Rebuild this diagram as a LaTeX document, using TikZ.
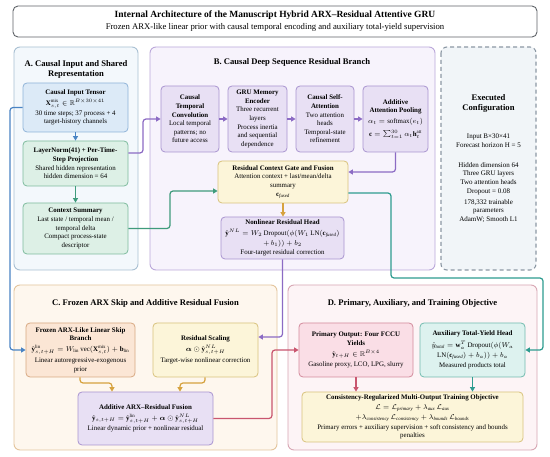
\documentclass[tikz,border=0pt]{standalone}
\usepackage{amsmath,amssymb}
\usepackage{fontspec}
\setmainfont{Liberation Serif}
\usetikzlibrary{arrows.meta,calc}
\definecolor{titleD}{HTML}{5F6368}
\definecolor{pAF}{HTML}{F3F8FC}\definecolor{pAD}{HTML}{A9C0D3}
\definecolor{inF}{HTML}{DCEAF7}\definecolor{inD}{HTML}{8FB4D8}
\definecolor{grF}{HTML}{DDF0E6}\definecolor{grD}{HTML}{7DBB9D}
\definecolor{pBF}{HTML}{F7F3FC}\definecolor{pBD}{HTML}{BBA8DA}
\definecolor{puF}{HTML}{E8E0F4}\definecolor{puD}{HTML}{A994D0}
\definecolor{yeF}{HTML}{FCF5D9}\definecolor{yeD}{HTML}{D8C27C}
\definecolor{cfgF}{HTML}{F1F5F8}\definecolor{cfgD}{HTML}{8C98A4}
\definecolor{pCF}{HTML}{FEF7EE}\definecolor{pCD}{HTML}{E4C59D}
\definecolor{orF}{HTML}{FBE6D5}\definecolor{orD}{HTML}{D8A982}
\definecolor{pDF}{HTML}{FDF4F6}\definecolor{pDD}{HTML}{D8A7B4}
\definecolor{piF}{HTML}{FADEE6}\definecolor{piD}{HTML}{D38A9C}
\definecolor{teF}{HTML}{DDF2EF}\definecolor{teD}{HTML}{72BBAF}
\definecolor{cblue}{HTML}{4A84C4}
\definecolor{cpurple}{HTML}{8C6BC4}
\definecolor{cgreen}{HTML}{3F9B7C}
\definecolor{cteal}{HTML}{2E9C90}
\definecolor{corange}{HTML}{D6A23F}
\definecolor{cred}{HTML}{C9566F}
\tikzset{
  panel/.style={rounded corners=6pt, line width=0.9pt},
  box/.style={rounded corners=4pt, line width=0.8pt, align=center, inner sep=1pt,
    font=\fontsize{6.9}{8.6}\selectfont},
  ptitle/.style={align=center, font=\fontsize{8.6}{10.5}\selectfont\bfseries},
  cfgtext/.style={align=center, font=\fontsize{7}{8.7}\selectfont},
  conn/.style={line width=1.2pt, rounded corners=3pt, -{Triangle[length=4.5pt,width=5pt]}},
  bluebox/.style={box, fill=inF, draw=inD},
  greenbox/.style={box, fill=grF, draw=grD},
  purplebox/.style={box, fill=puF, draw=puD},
  yellowbox/.style={box, fill=yeF, draw=yeD},
  orangebox/.style={box, fill=orF, draw=orD},
  pinkbox/.style={box, fill=piF, draw=piD},
  tealbox/.style={box, fill=teF, draw=teD}
}
\newcommand{\bt}[1]{\textbf{#1}}
\begin{document}
\begin{tikzpicture}[x=1pt,y=-1pt]
\useasboundingbox (0,0) rectangle (550,457);
\fill[white] (0,0) rectangle (550,457);
% title
\node[draw=titleD, line width=0.9pt, rounded corners=5pt, fill=white, minimum width=524pt, minimum height=31pt, align=center, inner sep=1pt] (title) at (275,21.5)
 {{\fontsize{9.5}{12}\selectfont\bfseries Internal Architecture of the Manuscript Hybrid ARX--Residual Attentive GRU}\\
  {\fontsize{8.7}{11}\selectfont Frozen ARX-like linear prior with causal temporal encoding and auxiliary total-yield supervision}};
% panels
\draw[panel, fill=pAF, draw=pAD] (14,47) rectangle (138,270);
\draw[panel, fill=pBF, draw=pBD] (150,47) rectangle (435,270);
\draw[panel, fill=cfgF, draw=cfgD, dashed, dash pattern=on 4pt off 3pt, line width=1.1pt] (441,47) rectangle (536,270);
\draw[panel, fill=pCF, draw=pCD] (14,285) rectangle (277,450);
\draw[panel, fill=pDF, draw=pDD] (288,285) rectangle (537,450);
% panel titles
\node[ptitle] (tA) at (76,69.5) {A. Causal Input and Shared\\Representation};
\node[ptitle] (tB) at (292,62) {B. Causal Deep Sequence Residual Branch};
\node[ptitle] (tC) at (145.5,303) {C. Frozen ARX Skip and Additive Residual Fusion};
\node[ptitle] (tD) at (412.5,303) {D. Primary, Auxiliary, and Training Objective};
% panel A
\node[bluebox, minimum width=105pt, minimum height=49pt] (inp) at (75.5,107.5)
 {\bt{Causal Input Tensor}\\[2pt]$\mathbf{X}^{\mathrm{mix}}_{s,t}\in\mathbb{R}^{B\times 30\times 41}$\\[1.5pt]30 time steps; 37 process + 4\\target-history channels};
\node[greenbox, minimum width=105pt, minimum height=45pt] (ln) at (75.5,163.5)
 {\bt{LayerNorm(41) + Per-Time-}\\\bt{Step Projection}\\Shared hidden representation\\hidden dimension = 64};
\node[greenbox, minimum width=105pt, minimum height=51pt] (ctx) at (75.5,228.5)
 {\bt{Context Summary}\\Last state / temporal mean /\\temporal delta\\Compact process-state\\descriptor};
% panel B
\node[purplebox, minimum width=58pt, minimum height=66pt] (conv) at (190,119)
 {\bt{Causal}\\\bt{Temporal}\\\bt{Convolution}\\Local temporal\\patterns; no\\future access};
\node[purplebox, minimum width=59pt, minimum height=66pt] (gru) at (257.5,119)
 {\bt{GRU Memory}\\\bt{Encoder}\\Three recurrent\\layers\\Process inertia\\and sequential\\dependence};
\node[purplebox, minimum width=58pt, minimum height=66pt] (sa) at (325,119)
 {\bt{Causal Self-}\\\bt{Attention}\\Two attention\\heads\\Temporal-state\\refinement};
\node[purplebox, minimum width=65pt, minimum height=66pt] (pool) at (395.5,119)
 {\bt{Additive}\\\bt{Attention Pooling}\\[2pt]$\alpha_t=\mathrm{softmax}(e_t)$\\[4pt]$\mathbf{c}=\textstyle\sum\nolimits_{t=1}^{30}\alpha_t\mathbf{h}_t^{\mathrm{att}}$};
\node[yellowbox, minimum width=130pt, minimum height=42pt] (fus) at (283,182)
 {\bt{Residual Context Gate and Fusion}\\Attention context + last/mean/delta\\summary\\[0.5pt]$\mathbf{c}_{\mathit{fused}}$};
\node[purplebox, minimum width=123pt, minimum height=42pt] (nl) at (282.5,238)
 {\bt{Nonlinear Residual Head}\\[2.5pt]$\hat{\mathbf{y}}^{NL}=W_2\,\mathrm{Dropout}(\phi(W_1\,\mathrm{LN}(\mathbf{c}_{\mathit{fused}})$\\[1pt]$+\,b_1))+b_2$\\[0.5pt]Four-target residual correction};
% config
\node[align=center, font=\fontsize{8.6}{10}\selectfont\bfseries] (cfgt) at (488.5,103) {Executed\\Configuration};
\node[cfgtext] (cfg1) at (488.5,141) {Input B×30×41\\Forecast horizon H = 5};
\node[cfgtext] (cfg2) at (488.5,178.5) {Hidden dimension 64\\Three GRU layers\\Two attention heads\\Dropout = 0.08};
\node[cfgtext] (cfg3) at (488.5,211) {178,332 trainable\\parameters\\AdamW; Smooth L1};
% panel C
\node[orangebox, minimum width=109pt, minimum height=54pt] (arx) at (80.5,350)
 {\bt{Frozen ARX-Like Linear Skip}\\\bt{Branch}\\[2.5pt]$\hat{\mathbf{y}}^{\mathrm{lin}}_{s,t+H}=W_{\mathrm{lin}}\,\mathrm{vec}(\mathbf{X}^{\mathrm{mix}}_{s,t})+\mathbf{b}_{\mathrm{lin}}$\\[2pt]Linear autoregressive-exogenous\\prior};
\node[yellowbox, minimum width=105pt, minimum height=54pt] (scl) at (205.5,350)
 {\bt{Residual Scaling}\\[2.5pt]$\boldsymbol{\alpha}\odot\hat{\mathbf{y}}^{NL}_{s,t+H}$\\[2pt]Target-wise nonlinear correction};
\node[purplebox, minimum width=135pt, minimum height=53pt] (afu) at (145.5,418.5)
 {\bt{Additive ARX--Residual Fusion}\\[2.5pt]$\hat{\mathbf{y}}_{s,t+H}=\hat{\mathbf{y}}^{\mathrm{lin}}_{s,t+H}+\boldsymbol{\alpha}\odot\hat{\mathbf{y}}^{NL}_{s,t+H}$\\[2pt]Linear dynamic prior + nonlinear residual};
% panel D
\node[pinkbox, minimum width=114pt, minimum height=54pt] (pri) at (356,350)
 {\bt{Primary Output: Four FCCU}\\\bt{Yields}\\[2pt]$\hat{\mathbf{y}}_{t+H}\in\mathbb{R}^{B\times 4}$\\[1.5pt]Gasoline proxy, LCO, LPG, slurry};
\node[tealbox, minimum width=105pt, minimum height=54pt] (aux) at (472.5,350)
 {\bt{Auxiliary Total-Yield Head}\\[3.5pt]$\hat{y}_{\mathit{total}}=\mathbf{w}_a^{T}\,\mathrm{Dropout}(\phi(W_a$\\[1.5pt]$\mathrm{LN}(\mathbf{c}_{\mathit{fused}})+b_a))+b_a$\\[1pt]Measured products total};
\node[yellowbox, minimum width=221pt, minimum height=50pt] (con) at (412.5,417)
 {\bt{Consistency-Regularized Multi-Output Training Objective}\\[1.5pt]$\mathcal{L}=\mathcal{L}_{\mathit{primary}}+\lambda_{\mathit{aux}}\,\mathcal{L}_{\mathit{aux}}$\\[1pt]$+\lambda_{\mathit{consistency}}\,\mathcal{L}_{\mathit{consistency}}+\lambda_{\mathit{bounds}}\,\mathcal{L}_{\mathit{bounds}}$\\[1pt]Primary errors + auxiliary supervision + soft consistency and bounds\\penalties};
% connectors
\draw[conn, cblue] (inp.south) -- (ln.north);
\draw[conn, cgreen] (ln.south) -- (ctx.north);
\draw[conn, cpurple] (ln.east |- 0,153) -- (143,153) |- (conv.west);
\draw[conn, cgreen] (ctx.east) -| (170,191) -- (fus.west |- 0,191);
\draw[conn, cpurple] (conv.east) -- (gru.west);
\draw[conn, cpurple] (gru.east) -- (sa.west);
\draw[conn, cpurple] (sa.east) -- (pool.west);
\draw[conn, cpurple] (pool.south) |- (fus.east |- 0,172);
\draw[conn, corange] (fus.south) -- (fus.south |- nl.north);
\draw[conn, cpurple] (nl.south) |- (scl.east |- 0,337);
\draw[conn, cteal] (fus.east |- 0,193) -| (391,278) -| (543,350) -- (aux.east);
\draw[conn, cblue] (inp.west) -| (10,350) -- (arx.west);
\draw[conn, corange] (arx.south -| 80,0) -- (80,383) -| (afu.north -| 112,0);
\draw[conn, corange] (scl.south -| 205,0) -- (205,383) -| (afu.north -| 180,0);
\draw[conn, cred] (afu.east) -| (272,350) -- (pri.west);
\draw[conn, cred] (pri.south) -- (pri.south |- con.north);
\draw[conn, cteal] (aux.south) -- (aux.south |- con.north);
\end{tikzpicture}
\end{document}
